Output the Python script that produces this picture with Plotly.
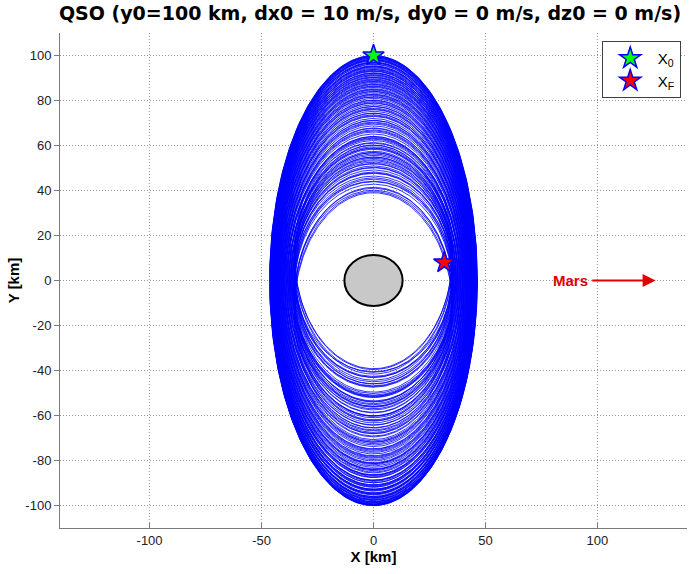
import numpy as np
import plotly.graph_objects as go

# Trajectory loops of the quasi-satellite orbit (km): top and bottom crossings
# of the X = 0 axis and the half-width of each loop at its own mid-height.
loop_top = [
    # descending
    100.0, 98.6, 97.1, 95.4, 93.8, 92.0, 90.1, 88.0, 85.8, 83.4, 80.9, 78.1,
    75.2, 72.0, 68.7, 65.1, 61.3, 57.4, 53.2, 49.1, 45.0, 41.4, 39.0,
    # ascending
    63.5, 58.7, 54.9, 51.8, 55.6, 59.4, 63.2, 66.9, 70.4, 73.6, 76.6, 79.5,
    82.2, 84.6, 86.9, 89.0, 91.0, 92.9, 94.6, 96.2, 97.6, 98.9, 99.7,
    # descending
    99.4, 97.9, 96.0, 94.2, 92.3, 90.5, 88.6, 86.2, 83.9, 81.5, 78.8, 75.9,
    72.9, 69.5, 66.0, 62.2, 58.3, 54.3, 50.3, 46.4, 42.8, 40.1,
    # ascending
    44.1, 47.6, 50.9, 53.7, 56.9, 60.1, 64.0, 67.8, 71.2, 74.4, 77.3, 80.2,
    82.8, 85.2, 87.5, 89.6, 91.5, 93.3, 95.0, 96.6, 97.9, 99.0, 99.9,
    # descending
    99.6, 98.3, 96.8, 95.0, 93.1, 91.3, 89.3, 87.2, 84.9, 82.6, 80.0, 77.4,
    74.3, 71.1, 67.6, 64.0, 60.2, 56.2, 52.0, 47.8, 43.9, 41.0, 39.5,
    # ascending
    61.0, 56.8, 52.6, 48.2, 45.6, 50.1, 54.8, 58.9, 62.8, 66.5, 70.0, 73.2,
    76.2, 79.0, 81.7, 84.1, 86.4, 88.4, 90.3, 92.1, 93.7, 95.3, 96.9, 98.2, 99.3,
]
loop_bottom = [
    -99.4, -99.8, -98.2, -96.9, -95.0, -93.6, -91.7, -89.9, -87.6, -85.1, -82.4, -79.6,
    -76.4, -73.1, -69.5, -65.4, -61.0, -56.3, -51.8, -47.4, -53.5, -60.2, -66.8,
    -39.2, -41.6, -44.3, -50.9, -54.7, -58.8, -63.3, -67.5, -71.3, -74.8, -77.9, -81.0,
    -83.7, -86.3, -88.7, -90.8, -92.7, -94.4, -96.0, -97.4, -98.7, -99.5, -100.1,
    -98.9, -97.6, -96.3, -94.8, -92.9, -91.1, -88.8, -86.5, -84.0, -81.3, -78.2, -75.0,
    -71.8, -68.0, -64.2, -60.1, -55.9, -51.5, -47.1, -43.0, -50.2, -57.0,
    -40.5, -42.6, -46.0, -53.8, -57.5, -61.9, -65.6, -69.1, -72.5, -75.9, -79.0, -81.8,
    -84.5, -87.0, -89.3, -91.4, -93.2, -94.9, -96.5, -97.8, -99.0, -99.7, -99.9,
    -99.7, -98.4, -96.6, -95.3, -93.3, -91.9, -89.9, -87.4, -85.5, -83.0, -80.2, -77.1,
    -73.8, -70.7, -66.4, -62.5, -58.6, -54.0, -49.6, -45.0, -46.8, -55.2, -62.3,
    -39.6, -40.8, -43.1, -45.9, -51.3, -52.0, -56.0, -60.4, -64.3, -68.1, -71.9, -75.4,
    -78.6, -81.4, -84.0, -86.6, -88.9, -90.9, -92.8, -94.4, -96.0, -97.3, -98.4, -99.3, -99.9,
]
loop_halfwidth = [
    46.3, 46.0, 45.7, 45.4, 45.0, 44.7, 44.3, 43.9, 43.4, 42.9, 42.4, 41.8,
    41.2, 40.6, 39.9, 39.2, 38.4, 37.6, 36.8, 36.0, 35.6, 35.4, 35.4,
    35.4, 35.3, 35.5, 36.3, 37.0, 37.8, 38.7, 39.5, 40.2, 40.8, 41.5, 42.1,
    42.6, 43.1, 43.6, 44.1, 44.5, 44.9, 45.2, 45.5, 45.8, 46.1, 46.2,
    46.0, 45.7, 45.4, 45.1, 44.7, 44.3, 43.9, 43.4, 42.9, 42.4, 41.8, 41.2,
    40.5, 39.8, 39.0, 38.2, 37.4, 36.6, 35.8, 35.2, 35.3, 35.2,
    34.9, 35.0, 35.3, 36.4, 37.1, 37.9, 38.8, 39.6, 40.3, 41.0, 41.6, 42.2,
    42.7, 43.2, 43.7, 44.1, 44.5, 44.9, 45.3, 45.6, 45.9, 46.1, 46.4,
    46.2, 45.9, 45.5, 45.2, 44.8, 44.5, 44.0, 43.6, 43.1, 42.6, 42.0, 41.4,
    40.7, 40.0, 39.2, 38.4, 37.6, 36.8, 36.0, 35.3, 35.0, 35.1, 35.2,
    35.1, 35.0, 35.2, 35.4, 35.8, 36.4, 37.2, 38.0, 38.8, 39.6, 40.4, 41.1,
    41.7, 42.3, 42.8, 43.3, 43.8, 44.2, 44.6, 45.0, 45.3, 45.6, 45.9, 46.1, 46.3,
]

# Start and end states
x0_point = [0.0, 100.0]
xf_point = [31.6, 8.0]

# Phobos body (semi-axes, km)
phobos_semi_axes = [13.0, 11.3]

# Direction to Mars
mars_label_x = 88.0
mars_arrow_x = [97.0, 126.0]

x_ticks = [-100, -50, 0, 50, 100]
x_tick_labels = ["-100", "-50", "0", "50", "100"]
y_ticks = [-100, -80, -60, -40, -20, 0, 20, 40, 60, 80, 100]
y_tick_labels = ["-100", "-80", "-60", "-40", "-20", "0", "20", "40", "60", "80", "100"]

# Build the loop polylines
theta = np.linspace(0.0, 2.0 * np.pi, 241)
xs, ys = [], []
for top, bot, a in zip(loop_top, loop_bottom, loop_halfwidth):
    yc = 0.5 * (top + bot)
    b = 0.5 * (top - bot)
    xs.extend((a * np.cos(theta)).tolist() + [None])
    ys.extend((yc + b * np.sin(theta)).tolist() + [None])

fig = go.Figure()
fig.add_trace(go.Scatter(
    x=xs, y=ys, mode="lines",
    line=dict(color="#0000ff", width=0.8),
    showlegend=False, hoverinfo="skip",
))

# Phobos
fig.add_shape(
    type="circle", xref="x", yref="y",
    x0=-phobos_semi_axes[0], x1=phobos_semi_axes[0],
    y0=-phobos_semi_axes[1], y1=phobos_semi_axes[1],
    fillcolor="#c8c8c8", line=dict(color="black", width=2), layer="above",
)

fig.add_trace(go.Scatter(
    x=[x0_point[0]], y=[x0_point[1]], mode="markers", name="X<sub>0</sub>",
    marker=dict(symbol="star", size=16, color="#00ff00",
                line=dict(color="#0000ff", width=1.5)),
))
fig.add_trace(go.Scatter(
    x=[xf_point[0]], y=[xf_point[1]], mode="markers", name="X<sub>F</sub>",
    marker=dict(symbol="star", size=16, color="#ff0000",
                line=dict(color="#0000ff", width=1.5)),
))

fig.add_annotation(
    x=mars_label_x, y=0, xref="x", yref="y", text="<b>Mars</b>",
    showarrow=False, font=dict(family="Liberation Sans, Arial", size=15, color="#e00000"),
)
fig.add_annotation(
    x=mars_arrow_x[1], y=0, ax=mars_arrow_x[0], ay=0,
    xref="x", yref="y", axref="x", ayref="y", text="",
    showarrow=True, arrowhead=2, arrowsize=1.3, arrowwidth=2, arrowcolor="#e00000",
)

grid_style = dict(showgrid=True, gridcolor="#9a9a9a", griddash="1px,2px", gridwidth=1,
                  zeroline=False, showline=True, linecolor="#7a7a7a", linewidth=1,
                  ticklen=5, tickcolor="#7a7a7a", mirror=False,
                  tickfont=dict(family="Liberation Sans, Arial", size=13, color="#222222"))

fig.update_layout(
    width=689, height=574,
    margin=dict(l=60, r=2, t=33, b=46),
    paper_bgcolor="white", plot_bgcolor="white",
    title=dict(text="<b>QSO (y0=100 km, dx0 = 10 m/s, dy0 = 0 m/s, dz0 = 0 m/s)</b>",
               x=0.537, xanchor="center", y=0.977, yanchor="middle",
               font=dict(family="DejaVu Sans", size=19, color="black")),
    xaxis=dict(range=[-140, 140], tickvals=x_ticks, ticktext=x_tick_labels, ticks="inside",
               title=dict(text="<b>X [km]</b>", standoff=4,
                          font=dict(family="Liberation Sans, Arial", size=15, color="black")),
               **grid_style),
    yaxis=dict(range=[-110, 110], tickvals=y_ticks, ticktext=y_tick_labels, ticks="outside",
               title=dict(text="<b>Y [km]</b>", standoff=2,
                          font=dict(family="Liberation Sans, Arial", size=15, color="black")),
               **grid_style),
    legend=dict(x=0.99, y=0.984, xanchor="right", yanchor="top",
                bgcolor="white", bordercolor="#404040", borderwidth=1,
                font=dict(family="Liberation Sans, Arial", size=15, color="black"),
                itemwidth=45, tracegroupgap=4),
    showlegend=True,
)

fig.write_html("out.html")
